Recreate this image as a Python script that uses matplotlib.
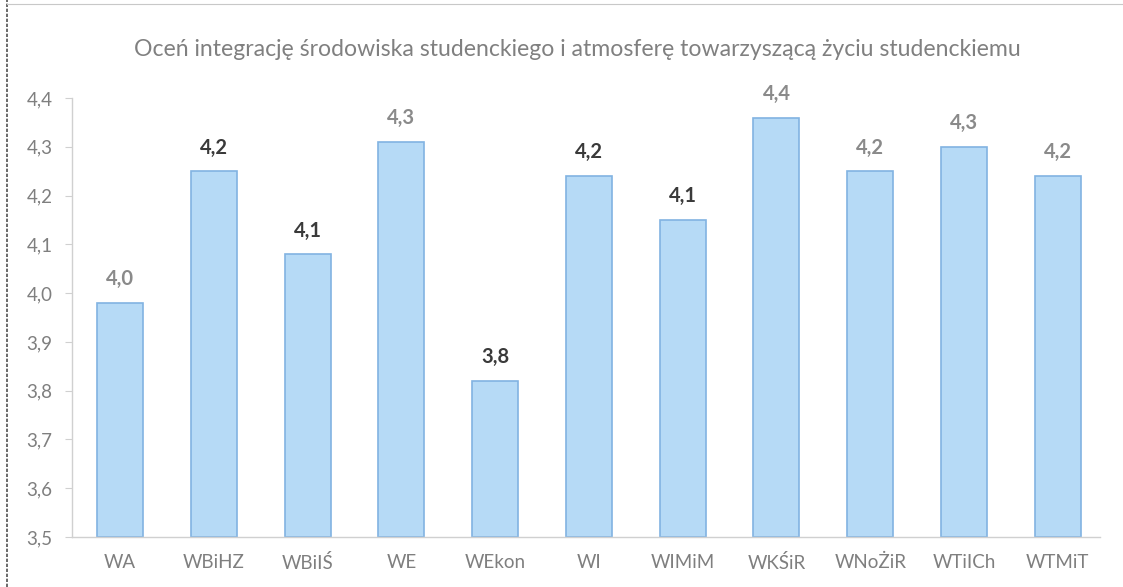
import matplotlib
matplotlib.use("Agg")
import matplotlib.pyplot as plt
from matplotlib.lines import Line2D

categories = ["WA", "WBiHZ", "WBiIŚ", "WE", "WEkon", "WI", "WIMiM", "WKŚiR", "WNoŻiR", "WTiICh", "WTMiT"]
values = [3.98, 4.25, 4.08, 4.31, 3.82, 4.24, 4.15, 4.36, 4.25, 4.30, 4.24]
value_labels = ["4,0", "4,2", "4,1", "4,3", "3,8", "4,2", "4,1", "4,4", "4,2", "4,3", "4,2"]
label_dark = [False, True, True, False, True, True, True, False, False, False, False]
yticks = [3.5, 3.6, 3.7, 3.8, 3.9, 4.0, 4.1, 4.2, 4.3, 4.4]
ytick_labels = ["3,5", "3,6", "3,7", "3,8", "3,9", "4,0", "4,1", "4,2", "4,3", "4,4"]
title = "Oceń integrację środowiska studenckiego i atmosferę towarzyszącą życiu studenckiemu"

plt.rcParams['font.family'] = ['Lato', 'DejaVu Sans']

W, H = 1123, 587
fig = plt.figure(figsize=(W / 100, H / 100), dpi=100)
left_px, right_px, top_px, bot_px = 72, 1100, 98, 537
ax = fig.add_axes([left_px / W, (H - bot_px) / H, (right_px - left_px) / W, (bot_px - top_px) / H])

x = list(range(len(categories)))
ax.bar(x, [v - 3.5 for v in values], bottom=3.5, width=0.49,
       color="#b6daf6", edgecolor="#82b3e2", linewidth=1.2, zorder=2)

for xi, v, lab, dark in zip(x, values, value_labels, label_dark):
    ax.annotate(lab, (xi, v), xytext=(0, 17), textcoords="offset points",
                ha="center", va="center", fontsize=14.5, fontweight="bold",
                color="#3a3a3a" if dark else "#8a8a8a")

ax.set_ylim(3.5, 4.4)
ax.set_xlim(-0.512, 10.45)
ax.set_yticks(yticks)
ax.set_yticklabels(ytick_labels)
ax.set_xticks(x)
ax.set_xticklabels(categories)

for s in ["top", "right"]:
    ax.spines[s].set_visible(False)
for s in ["left", "bottom"]:
    ax.spines[s].set_color("#d0d0d0")
    ax.spines[s].set_linewidth(1.0)

ax.tick_params(axis="y", length=5, color="#d0d0d0", labelcolor="#7f7f7f", labelsize=13.5, pad=9)
ax.tick_params(axis="x", length=0, labelcolor="#7f7f7f", labelsize=13.5, pad=12)

fig.text(577 / W, 1 - 50 / H, title, ha="center", va="center", fontsize=16.6, color="#808080")

# scan frame lines
fig.add_artist(Line2D([7 / W, 7 / W], [0, 1], color="#505050", lw=1.2, ls=(0, (2, 1))))
fig.add_artist(Line2D([7 / W, 1], [1 - 4 / H, 1 - 4 / H], color="#c8c8c8", lw=0.8))

fig.savefig("out.png", dpi=100)
